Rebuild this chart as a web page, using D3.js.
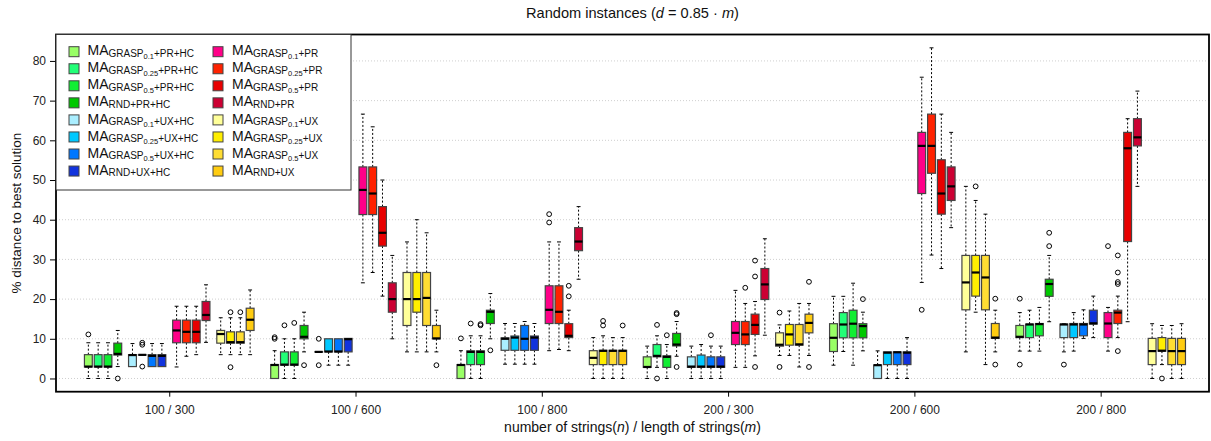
<!DOCTYPE html>
<html><head><meta charset="utf-8">
<script src="https://cdn.jsdelivr.net/npm/d3@7"></script>
<style>body{margin:0;background:#fff;} svg{display:block;font-family:"Liberation Sans",Arial,sans-serif;}</style>
</head><body>
<svg id="c" width="1211" height="441"></svg>
<script>
// ---- data ----
const groups = ["100 / 300","100 / 600","100 / 800","200 / 300","200 / 600","200 / 800"];
const yTicks = [0,10,20,30,40,50,60,70,80];
// legend names: [subscript main, sub-sub index, suffix]
const seriesNames = [
 ["GRASP","0.1","+PR+HC"],["GRASP","0.25","+PR+HC"],["GRASP","0.5","+PR+HC"],["RND","","+PR+HC"],
 ["GRASP","0.1","+UX+HC"],["GRASP","0.25","+UX+HC"],["GRASP","0.5","+UX+HC"],["RND","","+UX+HC"],
 ["GRASP","0.1","+PR"],["GRASP","0.25","+PR"],["GRASP","0.5","+PR"],["RND","","+PR"],
 ["GRASP","0.1","+UX"],["GRASP","0.25","+UX"],["GRASP","0.5","+UX"],["RND","","+UX"]];
const seriesColors = ["#99FF66","#22FF77","#11EE33","#00C800","#AAEEFF","#00C8FF","#0077FF","#1133DD",
 "#FF0088","#FF2200","#E80000","#CC0033","#FFFF99","#FFEE00","#FFDD33","#FFCC11"];
// each entry per group: [lowerWhisker, Q1, median, Q3, upperWhisker, outliers]
const sG01PRHC = [[0,2.9,3.0,6.0,9.0,[11.1]],[0,0,3.4,3.5,7.0,[10.0,10.4]],[0,0,3.4,3.5,7.0,[10.1]],[0,2.8,2.9,5.45,8.15,[]],[3.35,6.8,10.25,13.8,20.7,[]],[6.9,10.3,10.5,13.35,16.6,[20.1,3.5]]];
const sG025PRHC = [[0,2.9,3.0,6.0,9.0,[]],[0,3.35,3.5,6.7,10.0,[13.4]],[0,3.5,6.7,6.96,10.75,[13.85]],[2.8,5.45,5.7,8.55,10.75,[0,13.5]],[6.8,10.25,13.6,16.6,20.7,[]],[6.9,10.3,13.6,13.7,17.2,[]]];
const sG05PRHC = [[0,2.9,3.0,6.0,9.0,[]],[0,3.35,3.5,6.7,10.0,[14.0]],[0,3.5,6.7,6.96,10.75,[13.4,13.7]],[0,2.8,5.45,5.7,8.55,[10.9]],[3.35,10.25,13.8,17.2,24.0,[]],[6.9,10.75,13.7,13.85,17.9,[]]];
const sRNDPRHC = [[3.0,5.9,6.2,8.9,12.1,[0]],[6.7,10.0,10.5,13.35,16.7,[3.35]],[10.0,13.85,16.8,17.2,21.4,[7.1]],[5.6,8.2,8.55,11.35,14.35,[16.2,16.5,2.9]],[6.96,10.25,13.2,13.8,16.7,[20.0]],[14.3,20.7,23.8,25.0,31.0,[36.7,33.35]]];
const sG01UXHC = [[3.0,3.0,5.9,6.0,8.8,[]],[6.7,6.7,6.7,6.7,6.7,[10.0,3.35]],[3.6,7.1,10.0,10.25,13.85,[]],[0,2.8,3.0,5.45,8.15,[]],[0,0,3.35,3.4,6.96,[]],[6.7,10.3,13.6,13.7,13.8,[3.5]]];
const sG025UXHC = [[5.95,5.95,5.95,5.95,5.95,[8.5,9.0,3.0]],[3.35,6.7,6.8,10.0,10.0,[]],[3.6,7.1,10.3,10.7,13.85,[]],[0,2.8,3.0,5.9,8.55,[]],[0,3.5,6.5,6.7,6.7,[]],[6.9,10.3,13.6,13.85,16.6,[]]];
const sG05UXHC = [[3.0,3.0,5.7,6.0,8.8,[]],[3.35,6.7,6.8,10.0,10.0,[]],[3.6,7.1,10.0,13.35,14.35,[]],[0,2.8,3.0,5.45,8.15,[10.9]],[0,3.5,6.6,6.7,6.7,[]],[10.1,10.75,13.6,13.85,17.3,[]]];
const sRNDUXHC = [[3.0,3.0,5.7,6.0,8.8,[]],[3.35,6.7,9.9,10.1,10.1,[]],[3.6,7.1,10.3,10.7,13.85,[]],[0,2.8,3.0,5.45,8.15,[]],[0,3.5,6.5,6.7,10.3,[]],[10.3,13.7,13.9,17.2,20.75,[]]];
const sG01PR = [[2.9,9.0,12.1,14.7,18.2,[]],[24.1,41.3,47.5,53.3,66.6,[]],[7.0,13.85,17.3,23.35,34.4,[41.4,39.3]],[2.8,8.55,11.5,14.35,22.2,[]],[24.2,46.6,58.6,62.0,75.9,[17.3]],[6.9,10.3,13.85,16.6,17.9,[33.35]]];
const sG025PR = [[5.6,9.0,11.75,14.7,18.2,[]],[26.7,41.3,46.6,53.3,63.4,[]],[7.3,13.85,16.8,23.35,34.4,[]],[2.8,8.55,11.1,14.35,18.9,[22.85]],[31.1,51.7,58.6,66.6,83.3,[]],[10.3,13.85,16.6,17.2,20.75,[31.0,26.7,24.3,23.8,6.9]]];
const sG05PR = [[6.0,9.0,11.75,14.7,18.2,[]],[20.75,33.35,36.7,43.3,50.0,[]],[7.0,10.3,10.75,13.8,17.2,[23.35,20.7]],[5.7,11.1,13.5,16.2,19.4,[29.7,25.7,2.9]],[27.7,41.4,46.6,55.1,66.6,[]],[14.3,34.5,58.0,62.0,65.45,[]]];
const sRNDPR = [[9.1,14.6,16.0,19.4,23.6,[]],[10.0,16.7,20.0,24.1,31.0,[]],[25.0,32.2,34.5,38.0,43.3,[]],[10.9,19.9,23.7,27.7,35.2,[]],[38.0,44.85,48.4,53.3,62.0,[]],[48.4,58.6,60.75,65.45,72.4,[]]];
const sG01UX = [[6.0,8.9,11.2,12.1,15.3,[]],[6.7,13.35,20.0,26.7,34.4,[]],[0,3.5,5.2,7.0,10.3,[]],[5.8,8.15,8.5,11.5,13.5,[16.6,2.9]],[6.7,17.3,24.2,31.0,48.4,[]],[0,3.5,6.9,10.1,13.8,[]]];
const sG025UX = [[6.0,8.9,9.15,11.75,15.3,[16.7,2.85]],[6.7,16.7,20.0,26.7,40.0,[]],[0,3.5,6.96,7.1,10.75,[14.5,13.35]],[5.8,8.4,11.1,13.6,17.0,[]],[16.7,20.75,26.7,31.0,44.85,[48.4]],[3.5,6.9,7.0,10.3,13.35,[0]]];
const sG05UX = [[6.0,8.9,9.15,11.75,15.3,[16.7]],[6.7,13.35,20.3,26.7,36.7,[]],[0,3.5,6.96,7.1,10.3,[]],[2.9,8.4,8.6,13.6,18.9,[]],[3.5,17.3,25.45,31.0,41.4,[]],[0,3.5,6.9,10.1,13.35,[]]];
const sRNDUX = [[6.0,12.1,14.8,17.7,22.3,[]],[6.7,10.0,10.1,13.35,17.2,[3.35]],[0,3.5,6.96,7.1,10.3,[13.35]],[5.8,11.5,14.0,16.2,18.9,[24.35,2.9]],[6.7,10.1,10.3,13.85,17.2,[20.1,3.5]],[0,3.5,6.9,10.1,13.8,[]]];
const seriesStats = [sG01PRHC,sG025PRHC,sG05PRHC,sRNDPRHC,sG01UXHC,sG025UXHC,sG05UXHC,sRNDUXHC,
  sG01PR,sG025PR,sG05PR,sRNDPR,sG01UX,sG025UX,sG05UX,sRNDUX];

// ---- layout ----
const svg = d3.select("#c");
const L=56, R=1209, T=34.5, B=391.7;
const pos = (g,j) => g*19 + j + Math.floor(j/4)*0.5;
const x = d3.scaleLinear().domain([-3.3,114.3]).range([L,R]);
const y = d3.scaleLinear().domain([-3.33,86.66]).range([B,T]);
const unit = x(1)-x(0);
const bw = unit*0.8;
const FONT = "Liberation Sans, Arial, sans-serif";

// grid
svg.append("g").selectAll("line").data(yTicks).join("line")
  .attr("x1",L).attr("x2",R).attr("y1",d=>y(d)).attr("y2",d=>y(d))
  .attr("stroke","#cfcfcf").attr("stroke-width",1).attr("stroke-dasharray","1,2");

// boxes
const boxes=[];
seriesStats.forEach((ser,j)=>ser.forEach((s,g)=>boxes.push({g,j,s,c:seriesColors[j]})));
const bg = svg.append("g");
boxes.forEach(b=>{
  const cx = x(pos(b.g,b.j));
  const [lw,q1,md,q3,uw,outs]=b.s;
  const gg = bg.append("g");
  const dash="2,2";
  if (uw>q3) gg.append("line").attr("x1",cx).attr("x2",cx).attr("y1",y(q3)).attr("y2",y(uw)).attr("stroke","#000").attr("stroke-dasharray",dash);
  if (lw<q1) gg.append("line").attr("x1",cx).attr("x2",cx).attr("y1",y(q1)).attr("y2",y(lw)).attr("stroke","#000").attr("stroke-dasharray",dash);
  if (uw>q3) gg.append("line").attr("x1",cx-bw/4).attr("x2",cx+bw/4).attr("y1",y(uw)).attr("y2",y(uw)).attr("stroke","#000");
  if (lw<q1) gg.append("line").attr("x1",cx-bw/4).attr("x2",cx+bw/4).attr("y1",y(lw)).attr("y2",y(lw)).attr("stroke","#000");
  gg.append("rect").attr("x",cx-bw/2).attr("y",y(q3)).attr("width",bw).attr("height",Math.max(0.01,y(q1)-y(q3)))
    .attr("fill",b.c).attr("stroke","#444").attr("stroke-width",1.2);
  gg.append("line").attr("x1",cx-bw/2).attr("x2",cx+bw/2).attr("y1",y(md)).attr("y2",y(md)).attr("stroke","#000").attr("stroke-width",2.2);
  outs.forEach(o=>gg.append("circle").attr("cx",cx).attr("cy",y(o)).attr("r",2.4).attr("fill","none").attr("stroke","#000").attr("stroke-width",1));
});

// axes
const ya = svg.append("g").attr("transform",`translate(${L},0)`)
  .call(d3.axisLeft(y).tickValues(yTicks).tickSize(6).tickPadding(4));
ya.select(".domain").remove();
ya.selectAll("text").attr("font-size",12).attr("fill","#222").attr("font-family",FONT);
const xa = svg.append("g").attr("transform",`translate(0,${B})`)
  .call(d3.axisBottom(x).tickValues(groups.map((d,i)=>i*19+8.25)).tickFormat((d,i)=>groups[i]).tickSize(5).tickPadding(8.5));
xa.select(".domain").remove();
xa.selectAll("text").attr("font-size",12).attr("fill","#222").attr("font-family",FONT);

// plot border
svg.append("rect").attr("x",L).attr("y",T).attr("width",R-L).attr("height",B-T).attr("fill","none").attr("stroke","#000").attr("stroke-width",1.8);

// title
const tt = svg.append("text").attr("x",(L+R)/2).attr("y",18).attr("text-anchor","middle").attr("font-size",14.6).attr("fill","#111");
tt.append("tspan").text("Random instances (");
tt.append("tspan").attr("font-style","italic").text("d");
tt.append("tspan").text(" = 0.85 \u00b7 ");
tt.append("tspan").attr("font-style","italic").text("m");
tt.append("tspan").text(")");

// x title
const xt = svg.append("text").attr("x",(L+R)/2).attr("y",432).attr("text-anchor","middle").attr("font-size",14).attr("fill","#111");
xt.append("tspan").text("number of strings(");
xt.append("tspan").attr("font-style","italic").text("n");
xt.append("tspan").text(") / length of strings(");
xt.append("tspan").attr("font-style","italic").text("m");
xt.append("tspan").text(")");

// y title
svg.append("text").attr("transform",`translate(21,${(T+B)/2}) rotate(-90)`).attr("text-anchor","middle")
  .attr("font-size",13.5).attr("fill","#111").text("% distance to best solution");

// legend
const lg = svg.append("g");
lg.append("rect").attr("x",L).attr("y",T).attr("width",351-L).attr("height",190-T).attr("fill","#fff").attr("stroke","#333").attr("stroke-width",1);
seriesNames.forEach((n,i)=>{
  const col = Math.floor(i/8), row = i%8;
  const sx = col===0?69:213, tx = col===0?87.5:232;
  const cy = 51.7 + row*17.05;
  lg.append("rect").attr("x",sx).attr("y",cy-5).attr("width",10).attr("height",10).attr("fill",seriesColors[i]).attr("stroke","#444").attr("stroke-width",1);
  const t = lg.append("text").attr("x",tx).attr("y",cy+3.6).attr("font-size",14).attr("fill","#111");
  t.append("tspan").text("MA");
  t.append("tspan").attr("dy",1.8).attr("font-size",10).text(n[0]);
  if (n[1]) {
    t.append("tspan").attr("dy",2).attr("font-size",7.5).text(n[1]);
    t.append("tspan").attr("dy",-2).attr("font-size",10).text(n[2]);
  } else {
    t.append("tspan").attr("font-size",10).text(n[2]);
  }
});
</script>
</body></html>
